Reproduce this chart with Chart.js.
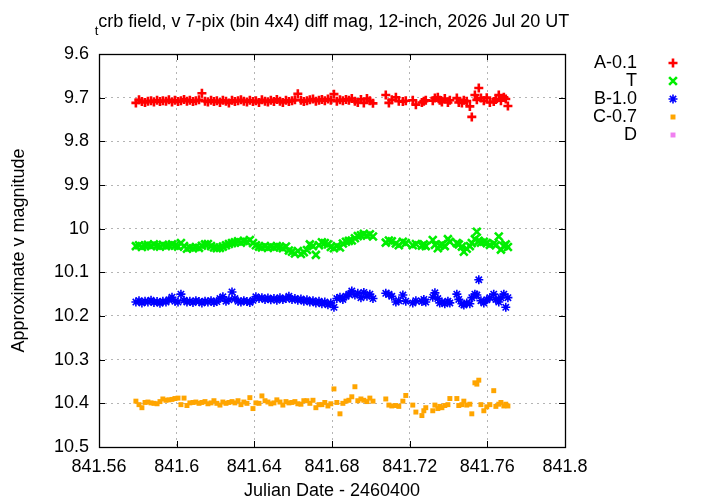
<!DOCTYPE html>
<html>
<head>
<meta charset="utf-8">
<script src="https://cdn.jsdelivr.net/npm/chart.js@4.4.0/dist/chart.umd.min.js"></script>
<style>
  html, body { margin: 0; padding: 0; background: #ffffff; }
  canvas { display: block; }
</style>
</head>
<body>
<canvas id="lightCurve" width="720" height="504"></canvas>
<script>
// ─── Data ───

var titleSub = "t";
var titleText = "crb field, v 7-pix (bin 4x4) diff mag, 12-inch, 2026 Jul 20 UT";
var xTitle = "Julian Date - 2460400";
var yTitle = "Approximate v magnitude";

var xTicks = [841.56, 841.6, 841.64, 841.68, 841.72, 841.76, 841.8];
var yTicks = [9.6, 9.7, 9.8, 9.9, 10, 10.1, 10.2, 10.3, 10.4, 10.5];

var seriesNames = ["A-0.1", "T", "B-1.0", "C-0.7", "D"];

// JD - 2460400 of each image
var times = [
  841.5790, 841.5806, 841.5821, 841.5837, 841.5852, 841.5868, 841.5883, 841.5899, 841.5914, 841.5929,
  841.5945, 841.5960, 841.5976, 841.5991, 841.6007, 841.6022, 841.6038, 841.6053, 841.6068, 841.6084,
  841.6099, 841.6115, 841.6130, 841.6146, 841.6161, 841.6177, 841.6192, 841.6207, 841.6223, 841.6238,
  841.6254, 841.6269, 841.6285, 841.6300, 841.6316, 841.6331, 841.6346, 841.6362, 841.6377, 841.6393,
  841.6408, 841.6424, 841.6439, 841.6455, 841.6470, 841.6485, 841.6501, 841.6516, 841.6532, 841.6547,
  841.6563, 841.6578, 841.6594, 841.6609, 841.6624, 841.6640, 841.6655, 841.6671, 841.6686, 841.6702,
  841.6717, 841.6733, 841.6748, 841.6763, 841.6779, 841.6794, 841.6810, 841.6825, 841.6841, 841.6856,
  841.6872, 841.6887, 841.6902, 841.6918, 841.6933, 841.6949, 841.6964, 841.6980, 841.6995, 841.7011,
  841.7077, 841.7093, 841.7108, 841.7129, 841.7144, 841.7165, 841.7180, 841.7216, 841.7232, 841.7263,
  841.7273, 841.7283, 841.7319, 841.7330, 841.7345, 841.7355, 841.7366, 841.7381, 841.7397, 841.7407,
  841.7443, 841.7453, 841.7469, 841.7479, 841.7494, 841.7510, 841.7520, 841.7536, 841.7546, 841.7556,
  841.7567, 841.7582, 841.7597, 841.7613, 841.7633, 841.7644, 841.7659, 841.7670, 841.7685, 841.7695,
  841.7706
];

var magA = [
  9.712, 9.705, 9.709, 9.711, 9.708, 9.707, 9.710, 9.706, 9.709, 9.707,
  9.708, 9.705, 9.710, 9.706, 9.709, 9.707, 9.704, 9.708, 9.706, 9.709,
  9.707, 9.705, 9.690, 9.708, 9.710, 9.706, 9.709, 9.707, 9.711, 9.706,
  9.708, 9.712, 9.706, 9.709, 9.707, 9.705, 9.708, 9.710, 9.706, 9.709,
  9.707, 9.711, 9.705, 9.708, 9.710, 9.706, 9.709, 9.704, 9.708, 9.711,
  9.706, 9.709, 9.707, 9.705, 9.691, 9.706, 9.709, 9.707, 9.705, 9.703,
  9.708, 9.706, 9.704, 9.707, 9.703, 9.706, 9.692, 9.708, 9.705, 9.707,
  9.704, 9.706, 9.702, 9.708, 9.711, 9.704, 9.712, 9.702, 9.707, 9.713,
  9.694, 9.712, 9.705, 9.699, 9.708, 9.709, 9.707, 9.706, 9.716, 9.711,
  9.708, 9.706, 9.707, 9.701, 9.699, 9.706, 9.710, 9.702, 9.711, 9.706,
  9.701, 9.711, 9.712, 9.706, 9.708, 9.720, 9.744, 9.694, 9.705, 9.678,
  9.701, 9.707, 9.700, 9.711, 9.709, 9.704, 9.694, 9.707, 9.699, 9.703,
  9.719
];

var magT = [
  10.040, 10.038, 10.042, 10.039, 10.037, 10.040, 10.036, 10.039, 10.041, 10.037,
  10.040, 10.038, 10.036, 10.039, 10.041, 10.033, 10.040, 10.046, 10.043, 10.045,
  10.042, 10.044, 10.039, 10.036, 10.035, 10.040, 10.043, 10.045, 10.044, 10.041,
  10.038, 10.035, 10.033, 10.031, 10.029, 10.032, 10.028, 10.030, 10.026, 10.033,
  10.038, 10.041, 10.043, 10.040, 10.044, 10.041, 10.043, 10.040, 10.042, 10.045,
  10.041, 10.050, 10.053, 10.057, 10.051, 10.058, 10.054, 10.049, 10.036, 10.040,
  10.060, 10.038, 10.031, 10.033, 10.036, 10.042, 10.045, 10.040, 10.043, 10.034,
  10.030, 10.028, 10.027, 10.022, 10.017, 10.015, 10.012, 10.016, 10.013, 10.018,
  10.032, 10.027, 10.029, 10.034, 10.038, 10.030, 10.033, 10.038, 10.035, 10.039,
  10.036, 10.040, 10.026, 10.037, 10.045, 10.039, 10.036, 10.040, 10.024, 10.030,
  10.033, 10.036, 10.041, 10.053, 10.046, 10.040, 10.033, 10.024, 10.007, 10.028,
  10.032, 10.030, 10.033, 10.037, 10.034, 10.038, 10.018, 10.048, 10.040, 10.036,
  10.042
];

var magB = [
  10.168, 10.165, 10.170, 10.166, 10.168, 10.164, 10.169, 10.167, 10.171, 10.166,
  10.168, 10.163, 10.157, 10.166, 10.168, 10.150, 10.164, 10.168, 10.166, 10.169,
  10.165, 10.167, 10.170, 10.166, 10.168, 10.165, 10.169, 10.167, 10.160, 10.156,
  10.166, 10.163, 10.145, 10.160, 10.166, 10.168, 10.165, 10.167, 10.169, 10.164,
  10.156, 10.160, 10.158, 10.162, 10.159, 10.163, 10.160, 10.164, 10.158, 10.162,
  10.160, 10.155, 10.162, 10.160, 10.164, 10.161, 10.166, 10.163, 10.168, 10.165,
  10.170, 10.166, 10.172, 10.168, 10.174, 10.170, 10.180, 10.160, 10.157, 10.162,
  10.155, 10.150, 10.143, 10.152, 10.148, 10.158, 10.146, 10.155, 10.150, 10.160,
  10.148, 10.150, 10.155, 10.168, 10.165, 10.152, 10.166, 10.170, 10.165, 10.167,
  10.162, 10.168, 10.157, 10.147, 10.160, 10.170, 10.168, 10.172, 10.166, 10.170,
  10.150, 10.162, 10.172, 10.175, 10.170, 10.172, 10.158, 10.150, 10.152, 10.117,
  10.165, 10.170, 10.163, 10.158, 10.150, 10.162, 10.168, 10.158, 10.150, 10.180,
  10.158
];

var magC = [
  10.395, 10.403, 10.410, 10.398, 10.397, 10.399, 10.400, 10.401, 10.396, 10.390,
  10.393, 10.392, 10.391, 10.389, 10.388, 10.403, 10.388, 10.405, 10.399, 10.398,
  10.397, 10.400, 10.398, 10.396, 10.401, 10.399, 10.394, 10.400, 10.404, 10.397,
  10.400, 10.398, 10.396, 10.399, 10.394, 10.403, 10.397, 10.400, 10.387, 10.412,
  10.399, 10.400, 10.383, 10.394, 10.397, 10.401, 10.399, 10.392, 10.397, 10.404,
  10.396, 10.399, 10.398, 10.396, 10.401, 10.402, 10.394, 10.394, 10.400, 10.393,
  10.410, 10.403, 10.403, 10.398, 10.406, 10.401, 10.367, 10.398, 10.424, 10.400,
  10.395, 10.393, 10.385, 10.362, 10.394, 10.390, 10.393, 10.396, 10.388, 10.395,
  10.390, 10.404, 10.406, 10.405, 10.407, 10.395, 10.382, 10.404, 10.420, 10.428,
  10.417, 10.410, 10.417, 10.404, 10.412, 10.407, 10.410, 10.405, 10.403, 10.389,
  10.389, 10.405, 10.403, 10.395, 10.404, 10.402, 10.424, 10.353, 10.356, 10.347,
  10.403, 10.417, 10.408, 10.403, 10.371, 10.407, 10.402, 10.398, 10.406, 10.402,
  10.406
];

var magD = [];

// ─── Chart ───

var FONT = "'Liberation Sans', Arial, sans-serif";
var FONT_SIZE = 18;

function toPoints(vals) {
  return vals.map(function (v, i) { return { x: times[i], y: v }; });
}

var styles = [
  { color: "#ff0000", pointStyle: "cross", radius: 4.5, width: 2.6 },
  { color: "#00ee00", pointStyle: "crossRot", radius: 5.5, width: 2.6 },
  { color: "#0000ff", pointStyle: "star", radius: 4.5, width: 1.6 },
  { color: "#ffa500", pointStyle: "rect", radius: 3.5, width: 0 },
  { color: "#f080f0", pointStyle: "rect", radius: 3.5, width: 0 },
];

var allMags = [magA, magT, magB, magC, magD];

var datasets = allMags.map(function (vals, k) {
  var s = styles[k];
  return {
    label: seriesNames[k],
    data: toPoints(vals),
    showLine: false,
    pointStyle: s.pointStyle,
    pointRadius: s.radius,
    pointBorderWidth: s.width,
    borderColor: s.color,
    backgroundColor: s.color,
    pointHoverRadius: s.radius,
  };
});

// frame, inward ticks, titles and legend in gnuplot style
var gnuplotDecor = {
  id: "gnuplotDecor",
  afterDraw: function (chart) {
    var ctx = chart.ctx;
    var area = chart.chartArea;
    var xs = chart.scales.x;
    var ys = chart.scales.y;
    ctx.save();

    // inward ticks on all four sides
    ctx.strokeStyle = "#000000";
    ctx.lineWidth = 1;
    ctx.beginPath();
    xTicks.forEach(function (v) {
      var px = Math.round(xs.getPixelForValue(v)) + 0.5;
      ctx.moveTo(px, area.bottom);
      ctx.lineTo(px, area.bottom - 6);
      ctx.moveTo(px, area.top);
      ctx.lineTo(px, area.top + 6);
    });
    yTicks.forEach(function (v) {
      var py = Math.round(ys.getPixelForValue(v)) + 0.5;
      ctx.moveTo(area.left, py);
      ctx.lineTo(area.left + 6, py);
      ctx.moveTo(area.right, py);
      ctx.lineTo(area.right - 6, py);
    });
    ctx.stroke();

    // plot frame
    ctx.lineWidth = 1.3;
    ctx.strokeRect(Math.round(area.left) + 0.5, Math.round(area.top) + 0.5,
      Math.round(area.right - area.left), Math.round(area.bottom - area.top));

    // title with leading subscript
    var big = FONT_SIZE + "px " + FONT;
    var small = "13px " + FONT;
    ctx.fillStyle = "#000000";
    ctx.textBaseline = "middle";
    ctx.font = small;
    var wSub = ctx.measureText(titleSub).width;
    ctx.font = big;
    var wMain = ctx.measureText(titleText).width;
    var cx = (area.left + area.right) / 2;
    var x0 = cx - (wSub + wMain) / 2;
    ctx.textAlign = "left";
    ctx.font = small;
    ctx.fillText(titleSub, x0, 31);
    ctx.font = big;
    ctx.fillText(titleText, x0 + wSub, 22);

    // axis titles
    ctx.textAlign = "center";
    ctx.fillText(xTitle, cx, 491);
    ctx.save();
    ctx.translate(19, (area.top + area.bottom) / 2);
    ctx.rotate(-Math.PI / 2);
    ctx.fillText(yTitle, 0, 0);
    ctx.restore();

    // legend: right-aligned labels, marker to the right
    chart.data.datasets.forEach(function (ds, k) {
      var y = 63 + k * 18;
      ctx.textAlign = "right";
      ctx.fillStyle = "#000000";
      ctx.font = big;
      ctx.fillText(ds.label, 637, y);
      ctx.strokeStyle = ds.borderColor;
      ctx.fillStyle = ds.backgroundColor;
      ctx.lineWidth = ds.pointBorderWidth || 1;
      Chart.helpers.drawPoint(ctx, {
        pointStyle: ds.pointStyle,
        radius: ds.pointRadius,
        borderWidth: ds.pointBorderWidth,
        rotation: 0,
      }, 673, y);
    });

    ctx.restore();
  },
};

function renderLightCurve() {
  var canvas = document.getElementById("lightCurve");
  if (!canvas) return;

  new Chart(canvas, {
    type: "scatter",
    data: { datasets: datasets },
    plugins: [gnuplotDecor],
    options: {
      responsive: false,
      animation: false,
      devicePixelRatio: 1,
      layout: { padding: { left: 0, top: 54, right: 155, bottom: 0 } },
      plugins: {
        legend: { display: false },
        tooltip: { enabled: false },
        title: { display: false },
      },
      scales: {
        x: {
          type: "linear",
          min: 841.56,
          max: 841.8,
          afterBuildTicks: function (scale) {
            scale.ticks = xTicks.map(function (v) { return { value: v }; });
          },
          afterFit: function (scale) { scale.height = 57; },
          ticks: {
            padding: 9,
            color: "#000000",
            font: { family: FONT, size: FONT_SIZE },
            maxRotation: 0,
            callback: function (v) { return String(Math.round(v * 100) / 100); },
          },
          grid: { color: "#b4b4b4", lineWidth: 1, drawTicks: false },
          border: { display: false, dash: [2, 4] },
        },
        y: {
          type: "linear",
          reverse: true,
          min: 9.6,
          max: 10.5,
          afterBuildTicks: function (scale) {
            scale.ticks = yTicks.map(function (v) { return { value: v }; });
          },
          afterFit: function (scale) { scale.width = 99; },
          ticks: {
            padding: 10,
            color: "#000000",
            font: { family: FONT, size: FONT_SIZE },
            callback: function (v) { return String(Math.round(v * 10) / 10); },
          },
          grid: { color: "#b4b4b4", lineWidth: 1, drawTicks: false },
          border: { display: false, dash: [2, 4] },
        },
      },
    },
  });
}

document.addEventListener("DOMContentLoaded", function () {
  renderLightCurve();
});
</script>
</body>
</html>
